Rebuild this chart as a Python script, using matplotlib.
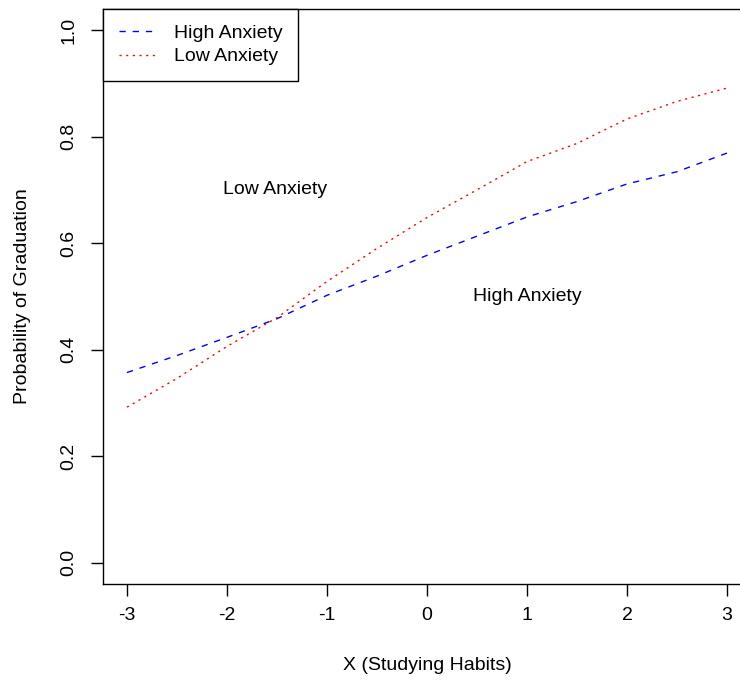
import numpy as np
import matplotlib
matplotlib.use("Agg")
import matplotlib.pyplot as plt

# values, step 0.5 on the studying-habits axis
x_vals = [-3.0, -2.5, -2.0, -1.5, -1.0, -0.5, 0.0, 0.5, 1.0, 1.5, 2.0, 2.5, 3.0]
p_high = [0.357, 0.389, 0.423, 0.458, 0.502, 0.538, 0.577, 0.613, 0.649, 0.678, 0.711, 0.734, 0.769]
p_low = [0.292, 0.346, 0.406, 0.460, 0.528, 0.590, 0.648, 0.700, 0.753, 0.787, 0.833, 0.866, 0.891]

x_ticks = [-3, -2, -1, 0, 1, 2, 3]
y_ticks = [0.0, 0.2, 0.4, 0.6, 0.8, 1.0]
y_tick_labels = ["0.0", "0.2", "0.4", "0.6", "0.8", "1.0"]

plt.rcParams['font.family'] = ['Liberation Sans', 'DejaVu Sans']
FS = 14

fig = plt.figure(figsize=(7.4, 6.83), dpi=100)
# plot region runs past the right edge, like the cropped original
ax = fig.add_axes([103 / 740, 99 / 683, 648 / 740, 575.3 / 683])

ax.plot(x_vals, p_high, color='#0000FF', linewidth=1.0,
        linestyle=(0, (4.5, 5)), label='High Anxiety')
ax.plot(x_vals, p_low, color='#FF0000', linewidth=1.0,
        linestyle=(0, (1.5, 3.3)), label='Low Anxiety')

ax.text(-1.52, 0.70, 'Low Anxiety', fontsize=FS, ha='center', va='center')
ax.text(1.0, 0.50, 'High Anxiety', fontsize=FS, ha='center', va='center')

ax.set_xlim(-3.24, 3.24)
ax.set_ylim(-0.04, 1.04)
ax.set_xticks(x_ticks)
ax.set_xticklabels([str(t) for t in x_ticks], fontsize=FS)
ax.set_yticks(y_ticks)
ax.set_yticklabels(y_tick_labels, fontsize=FS, rotation=90, va='center')
ax.tick_params(axis='both', direction='out', length=8.5, width=1.0, color='black')
ax.tick_params(axis='x', pad=8)
ax.tick_params(axis='y', pad=10)

for sp in ax.spines.values():
    sp.set_linewidth(1.0)
    sp.set_color('black')

ax.set_xlabel('X (Studying Habits)', fontsize=FS)
ax.xaxis.label.set_va('center')
ax.xaxis.set_label_coords(0.5, -0.1408)
ax.set_ylabel('Probability of Graduation', fontsize=FS)
ax.yaxis.label.set_va('center')
ax.yaxis.set_label_coords(-0.1235, 0.5)

leg = ax.legend(loc='upper left', bbox_to_anchor=(0, 1), fontsize=FS,
                frameon=True, fancybox=False, borderaxespad=0,
                handlelength=1.85, handletextpad=1.0, labelspacing=0.3,
                borderpad=0.8)
leg.get_frame().set_edgecolor('black')
leg.get_frame().set_linewidth(1.0)
leg.get_frame().set_alpha(1)

fig.savefig('out.png', dpi=100)
